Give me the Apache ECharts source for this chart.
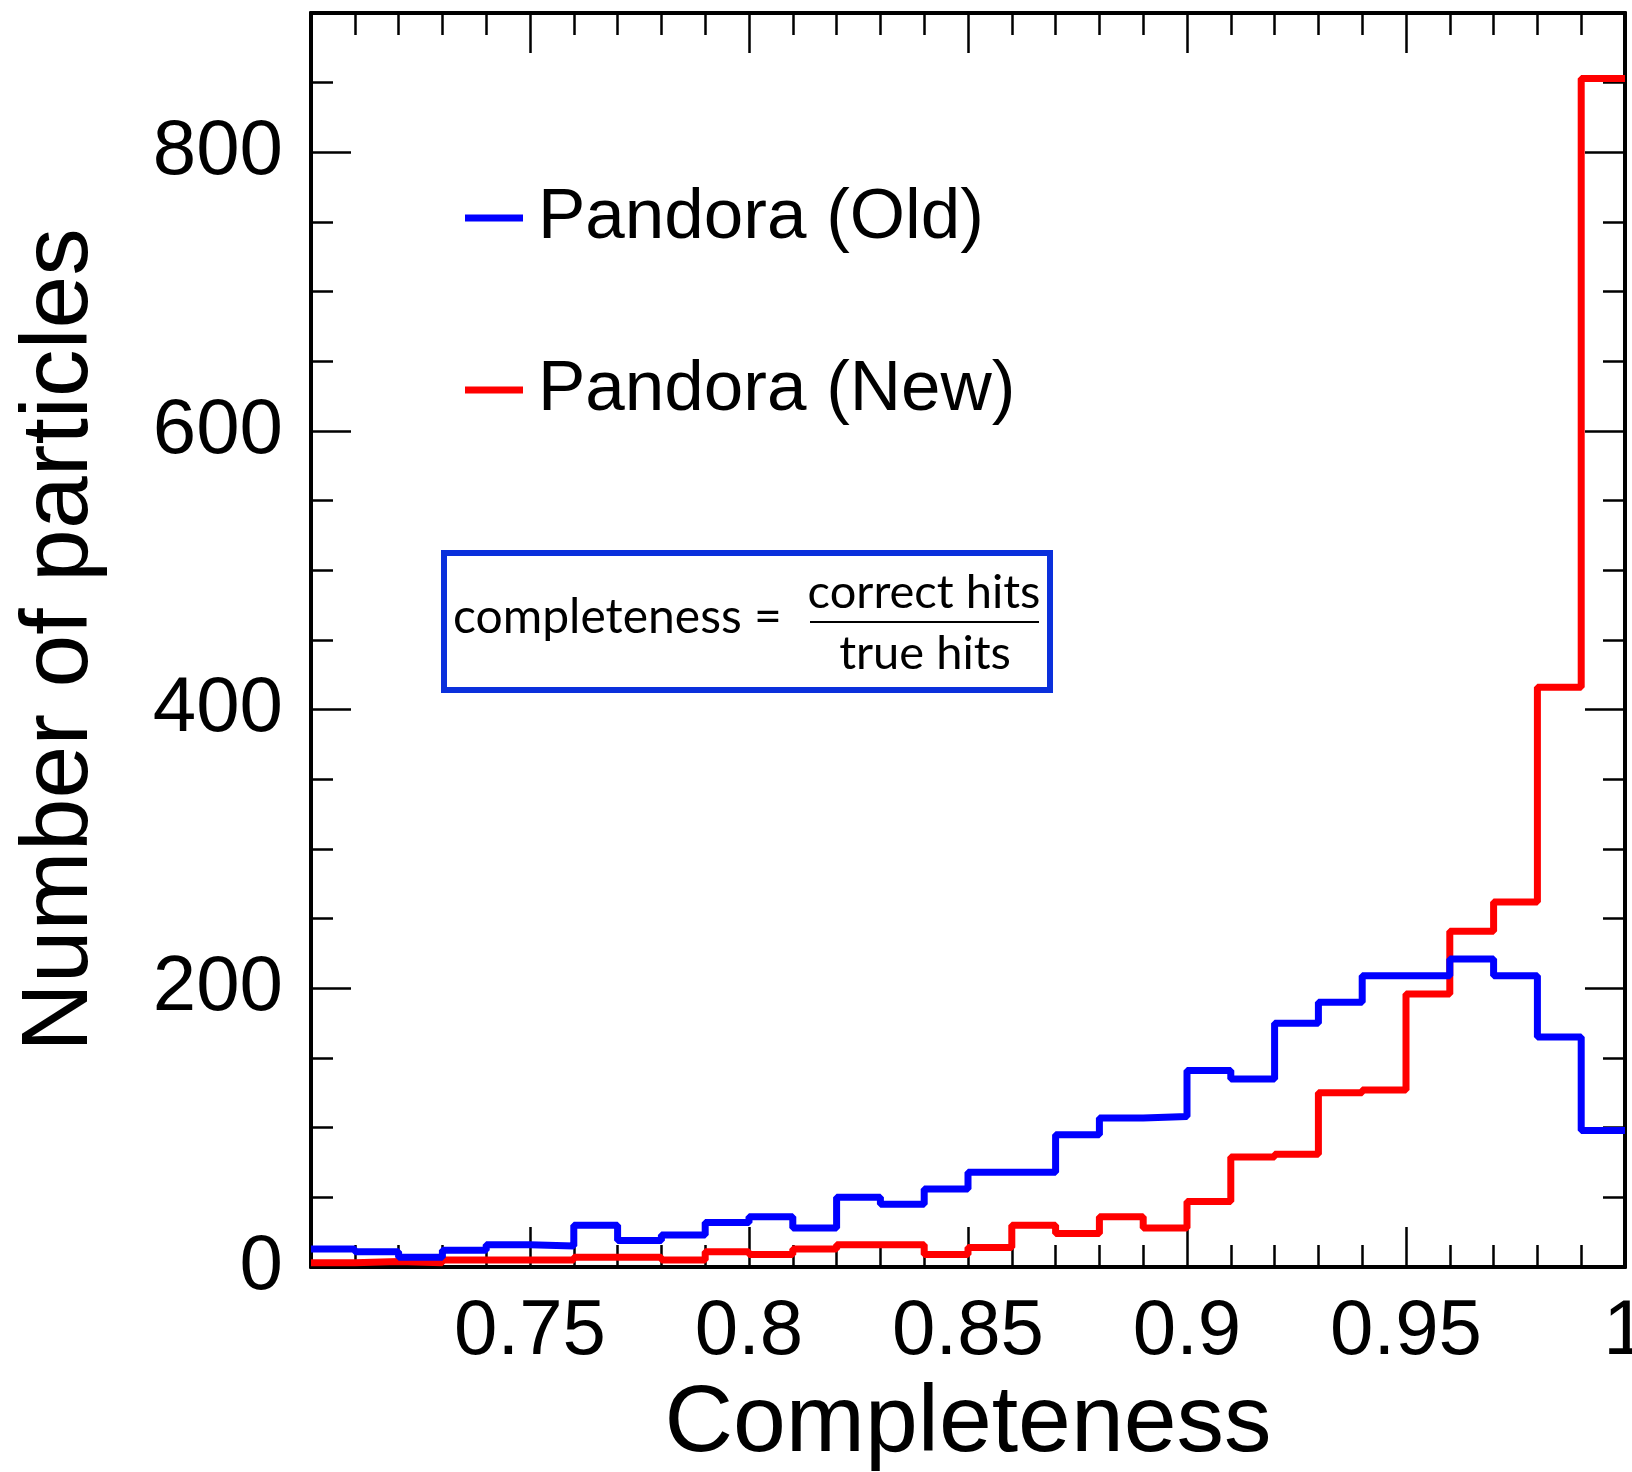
<!DOCTYPE html>
<html lang="en">
<head>
    <meta charset="UTF-8">
    <title>Completeness</title>
    <script src="https://cdn.jsdelivr.net/npm/echarts@6/dist/echarts.min.js"></script>
    <style>
        html, body { margin: 0; padding: 0; background: #fff; }
        #chart { width: 1632px; height: 1472px; }
    </style>
</head>
<body>
    <div id="chart"></div>

    <script>
        // histogram bins: 0.70 .. 1.00, width 0.01
        const binLow = 0.70;
        const binWidth = 0.01;

        // bin contents
        const oldValues = [13, 11, 7, 12, 16, 15, 30, 19, 23, 32,
                           36, 28, 50, 45, 56, 68, 68, 95, 107, 108,
                           141, 135, 175, 190, 209, 209, 221, 209, 165, 98];
        const newValues = [3, 4, 3, 5, 5, 5, 7, 7, 5, 11,
                           9, 13, 16, 16, 9, 14, 30, 24, 36, 28,
                           47, 79, 81, 125, 127, 196, 241, 262, 416, 853];

        const seriesNames = ['Pandora (Old)', 'Pandora (New)'];
        const seriesColors = ['#0000ff', '#ff0000'];

        const fontMain = 'Liberation Sans';

        // turn bin contents into step points (left edge of each bin + closing edge)
        function histPoints(values) {
            const pts = values.map((v, i) => [+(binLow + i * binWidth).toFixed(2), v]);
            pts.push([+(binLow + values.length * binWidth).toFixed(2), values[values.length - 1]]);
            return pts;
        }

        const chart = echarts.init(document.getElementById('chart'));

        const xBase = {
            type: 'value',
            min: 0.7,
            max: 1.0,
            interval: 0.05,
            splitLine: { show: false },
            axisLine: { show: true, onZero: false, lineStyle: { color: '#000', width: 4 } },
            axisTick: { show: true, inside: true, length: 40, lineStyle: { color: '#000', width: 2.5 } },
            minorTick: { show: true, splitNumber: 5, length: 22, lineStyle: { color: '#000', width: 2.5 } }
        };

        function yAxisDef(pos, step, tickLen, withLabels) {
            return {
                type: 'value',
                position: pos,
                min: 0,
                max: 900,
                interval: step,
                splitLine: { show: false },
                axisLine: { show: true, lineStyle: { color: '#000', width: 4 } },
                axisTick: { show: true, inside: true, length: tickLen, lineStyle: { color: '#000', width: 2.5 } },
                axisLabel: withLabels ? {
                    show: true,
                    showMaxLabel: false,
                    margin: 28,
                    color: '#000',
                    fontSize: 78,
                    fontFamily: fontMain
                } : { show: false }
            };
        }

        const leftMajor = yAxisDef('left', 200, 40, true);
        leftMajor.name = 'Number of particles';
        leftMajor.nameLocation = 'middle';
        leftMajor.nameGap = 203;
        leftMajor.nameTextStyle = { color: '#000', fontSize: 95, fontFamily: fontMain };

        const option = {
            backgroundColor: '#fff',
            animation: false,
            grid: { left: 311, right: 7, top: 13, bottom: 205, containLabel: false, outerBoundsMode: 'none' },
            legend: {
                data: seriesNames,
                orient: 'vertical',
                left: 465,
                top: 178,
                padding: 0,
                icon: 'rect',
                itemWidth: 58,
                itemHeight: 7,
                itemGap: 92,
                textStyle: {
                    color: '#000',
                    fontSize: 71,
                    fontFamily: fontMain,
                    lineHeight: 80,
                    padding: [0, 0, 0, 10]
                }
            },
            xAxis: [
                Object.assign({}, xBase, {
                    position: 'bottom',
                    name: 'Completeness',
                    nameLocation: 'middle',
                    nameGap: 110,
                    nameTextStyle: { color: '#000', fontSize: 95, fontFamily: fontMain },
                    axisLabel: {
                        show: true,
                        showMinLabel: false,
                        margin: 26,
                        color: '#000',
                        fontSize: 78,
                        fontFamily: fontMain,
                        formatter: v => String(+v.toFixed(2))
                    }
                }),
                Object.assign({}, xBase, {
                    position: 'top',
                    axisLabel: { show: false }
                })
            ],
            yAxis: [
                leftMajor,
                yAxisDef('left', 50, 22, false),
                yAxisDef('right', 200, 40, false),
                yAxisDef('right', 50, 22, false)
            ],
            // new first so the old histogram is drawn on top of it
            series: [
                {
                    name: seriesNames[1],
                    type: 'line',
                    step: 'end',
                    showSymbol: false,
                    symbol: 'none',
                    data: histPoints(newValues),
                    lineStyle: { color: seriesColors[1], width: 7 },
                    itemStyle: { color: seriesColors[1] }
                },
                {
                    name: seriesNames[0],
                    type: 'line',
                    step: 'end',
                    showSymbol: false,
                    symbol: 'none',
                    data: histPoints(oldValues),
                    lineStyle: { color: seriesColors[0], width: 7 },
                    itemStyle: { color: seriesColors[0] }
                }
            ],
            graphic: [
                {
                    type: 'rect',
                    shape: { x: 444, y: 553, width: 606, height: 137 },
                    style: { fill: '#fff', stroke: '#0a30dc', lineWidth: 6 },
                    z: 10
                },
                {
                    type: 'text',
                    x: 453, y: 618,
                    style: {
                        text: 'completeness =',
                        fill: '#000', fontSize: 48, fontFamily: 'Lato',
                        align: 'left', verticalAlign: 'middle',
                        textAlign: 'left', textVerticalAlign: 'middle'
                    },
                    z: 11
                },
                {
                    type: 'text',
                    x: 924, y: 593,
                    style: {
                        text: 'correct hits',
                        fill: '#000', fontSize: 47, fontFamily: 'Lato',
                        align: 'center', verticalAlign: 'middle',
                        textAlign: 'center', textVerticalAlign: 'middle'
                    },
                    z: 11
                },
                {
                    type: 'line',
                    shape: { x1: 810, y1: 622, x2: 1039, y2: 622 },
                    style: { stroke: '#000', lineWidth: 2 },
                    z: 11
                },
                {
                    type: 'text',
                    x: 925, y: 654,
                    style: {
                        text: 'true hits',
                        fill: '#000', fontSize: 47, fontFamily: 'Lato',
                        align: 'center', verticalAlign: 'middle',
                        textAlign: 'center', textVerticalAlign: 'middle'
                    },
                    z: 11
                }
            ]
        };

        chart.setOption(option);
    </script>
</body>
</html>
